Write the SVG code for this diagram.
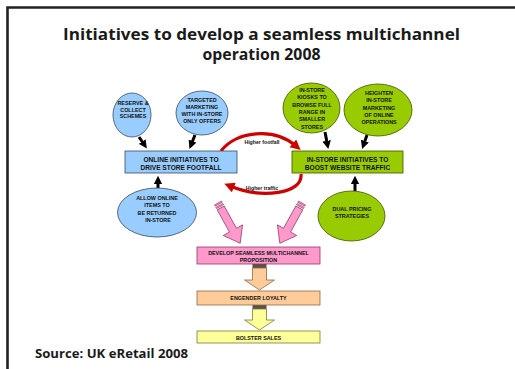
<svg xmlns="http://www.w3.org/2000/svg" width="515" height="369" viewBox="0 0 515 369">
  <defs>
    <style>
      .title { font-family: "Open Sans", Lato, "Liberation Sans", sans-serif; font-weight: 700; font-size: 15.8px; fill: #1a1a1a; text-anchor: middle; }
      .src { font-family: "Open Sans", Lato, "Liberation Sans", sans-serif; font-weight: 700; font-size: 12px; fill: #1a1a1a; }
      .lbl { font-family: "Liberation Sans", Arial, sans-serif; font-weight: 700; font-size: 5.4px; fill: #111; text-anchor: middle; }
      .big { font-family: "Liberation Sans", Arial, sans-serif; font-weight: 700; font-size: 6.6px; fill: #111; text-anchor: middle; }
      .small { font-family: "Liberation Sans", Arial, sans-serif; font-weight: 700; font-size: 5.2px; fill: #111; text-anchor: middle; }
      .blue { fill: #99CCFF; stroke: #3a4a5a; stroke-width: 0.8; }
      .green { fill: #99CC00; stroke: #3f5200; stroke-width: 0.8; }
      .pink { fill: #FF99CC; stroke: #8a3a66; stroke-width: 0.8; }
      .orange { fill: #FFCC99; stroke: #8a6a4a; stroke-width: 0.8; }
      .yellow { fill: #FFFF99; stroke: #7a7a40; stroke-width: 0.8; }
      .link { stroke: #000; stroke-width: 3; fill: none; }
      .curve { stroke: #CC0000; stroke-width: 3.2; fill: none; }
    </style>
    <marker id="ah" viewBox="0 0 10 10" refX="5" refY="5" markerWidth="2.8" markerHeight="2.8" orient="auto" markerUnits="strokeWidth">
      <path d="M0,0 L10,5 L0,10 z" fill="#000"/>
    </marker>
    <marker id="rh" viewBox="0 0 10 10" refX="4" refY="5" markerWidth="3.6" markerHeight="3.2" orient="auto" markerUnits="strokeWidth">
      <path d="M0,0 L10,5 L0,10 z" fill="#CC0000"/>
    </marker>
    <!-- striped pink block arrow, drawn along +x -->
    <g id="pinkArrow">
      <rect x="0" y="-4" width="1.4" height="8" fill="#FF99CC" stroke="#8a3a66" stroke-width="0.6"/>
      <rect x="2.8" y="-4" width="1.4" height="8" fill="#FF99CC" stroke="#8a3a66" stroke-width="0.6"/>
      <path d="M5.6,-4 L31,-4 L31,-11 L46,0 L31,11 L31,4 L5.6,4 z" fill="#FF99CC" stroke="#8a3a66" stroke-width="0.7"/>
    </g>
  </defs>

  <rect width="515" height="369" fill="#ffffff"/>

  <!-- frame -->
  <path d="M7.5,369 L7.5,7.5 L515,7.5" fill="none" stroke="#222" stroke-width="2.6"/>

  <!-- heading -->
  <text class="title" x="261.5" y="39.5" textLength="397" lengthAdjust="spacingAndGlyphs">Initiatives to develop a seamless multichannel</text>
  <text class="title" x="261.5" y="60">operation 2008</text>

  <!-- connectors -->
  <g id="connectors">
    <line class="link" x1="139" y1="137" x2="144.5" y2="145" marker-end="url(#ah)"/>
    <line class="link" x1="195" y1="135" x2="191" y2="145" marker-end="url(#ah)"/>
    <line class="link" x1="325" y1="132" x2="327.5" y2="145" marker-end="url(#ah)"/>
    <line class="link" x1="367" y1="135" x2="363.5" y2="145" marker-end="url(#ah)"/>
    <line class="link" x1="158" y1="188" x2="158" y2="180" marker-end="url(#ah)"/>
    <line class="link" x1="355" y1="191" x2="355" y2="180" marker-end="url(#ah)"/>

    <path class="curve" d="M221,151 C236,131 274,127 296,146" marker-end="url(#rh)"/>
    <path class="curve" d="M301,174 C303,194 262,199 230,186" marker-end="url(#rh)"/>

    <use href="#pinkArrow" transform="translate(218,203) rotate(61.2)"/>
    <use href="#pinkArrow" transform="translate(302,203) rotate(118.8)"/>

    <!-- block arrows down the outcome chain -->
    <rect x="252.5" y="264" width="14" height="4" fill="#5a5048"/>
    <path class="orange" d="M252.5,268 L266.5,268 L266.5,280 L274.5,280 L259.5,290 L244.5,280 L252.5,280 z"/>
    <rect x="252.5" y="305" width="14" height="4" fill="#5a5048"/>
    <path class="yellow" d="M252.5,309 L266.5,309 L266.5,320 L274.5,320 L259.5,330 L244.5,320 L252.5,320 z"/>
  </g>

  <text class="small" x="262" y="143.5">Higher footfall</text>
  <text class="small" x="262" y="190">Higher traffic</text>

  <g id="reserve-collect">
    <ellipse class="blue" cx="132" cy="115" rx="19" ry="22"/>
    <text class="lbl" x="133" y="105">RESERVE &amp;</text>
    <text class="lbl" x="133" y="111.5">COLLECT</text>
    <text class="lbl" x="133" y="118">SCHEMES</text>
  </g>

  <g id="targeted-marketing">
    <ellipse class="blue" cx="202" cy="113" rx="26" ry="22"/>
    <text class="lbl" x="202" y="102">TARGETED</text>
    <text class="lbl" x="202" y="109">MARKETING</text>
    <text class="lbl" x="202" y="116">WITH IN-STORE</text>
    <text class="lbl" x="202" y="123">ONLY OFFERS</text>
  </g>

  <g id="online-initiatives">
    <rect class="blue" x="125" y="151" width="112" height="22"/>
    <text class="big" x="181" y="162">ONLINE INITIATIVES TO</text>
    <text class="big" x="181" y="170">DRIVE STORE FOOTFALL</text>
  </g>

  <g id="instore-kiosks">
    <ellipse class="green" cx="311.5" cy="108" rx="28.5" ry="25"/>
    <text class="lbl" x="312" y="92">IN-STORE</text>
    <text class="lbl" x="312" y="99.3">KIOSKS TO</text>
    <text class="lbl" x="312" y="106.6">BROWSE FULL</text>
    <text class="lbl" x="312" y="114">RANGE IN</text>
    <text class="lbl" x="312" y="121.3">SMALLER</text>
    <text class="lbl" x="312" y="128.6">STORES</text>
  </g>

  <g id="heighten-marketing">
    <ellipse class="green" cx="378" cy="110" rx="34" ry="26"/>
    <text class="lbl" x="379" y="95">HEIGHTEN</text>
    <text class="lbl" x="379" y="102.3">IN-STORE</text>
    <text class="lbl" x="379" y="109.6">MARKETING</text>
    <text class="lbl" x="379" y="117">OF ONLINE</text>
    <text class="lbl" x="379" y="124.3">OPERATIONS</text>
  </g>

  <g id="instore-initiatives">
    <rect class="green" x="292" y="151" width="111" height="22"/>
    <text class="big" x="347.5" y="162">IN-STORE INITIATIVES TO</text>
    <text class="big" x="347.5" y="170">BOOST WEBSITE TRAFFIC</text>
  </g>

  <g id="returns-instore">
    <ellipse class="blue" cx="157" cy="212.5" rx="39.5" ry="24.5"/>
    <text class="lbl" x="157" y="200">ALLOW ONLINE</text>
    <text class="lbl" x="157" y="207.3">ITEMS TO</text>
    <text class="lbl" x="157" y="214.6">BE RETURNED</text>
    <text class="lbl" x="158" y="222">IN-STORE</text>
  </g>

  <g id="dual-pricing">
    <ellipse class="green" cx="351.5" cy="216" rx="33.5" ry="25"/>
    <text class="lbl" x="352" y="211">DUAL PRICING</text>
    <text class="lbl" x="352" y="218">STRATEGIES</text>
  </g>

  <g id="multichannel-proposition">
    <rect class="pink" x="197" y="247" width="123" height="17"/>
    <text class="lbl" x="258.5" y="255">DEVELOP SEAMLESS MULTICHANNEL</text>
    <text class="lbl" x="258.5" y="262">PROPOSITION</text>
  </g>

  <g id="engender-loyalty">
    <rect class="orange" x="197" y="291" width="123" height="14"/>
    <text class="lbl" x="258.5" y="300">ENGENDER LOYALTY</text>
  </g>

  <g id="bolster-sales">
    <rect class="yellow" x="197" y="331" width="123" height="12"/>
    <text class="lbl" x="258.5" y="339.5">BOLSTER SALES</text>
  </g>

  <text class="src" x="35" y="358" textLength="153" lengthAdjust="spacingAndGlyphs">Source: UK eRetail 2008</text>
</svg>
